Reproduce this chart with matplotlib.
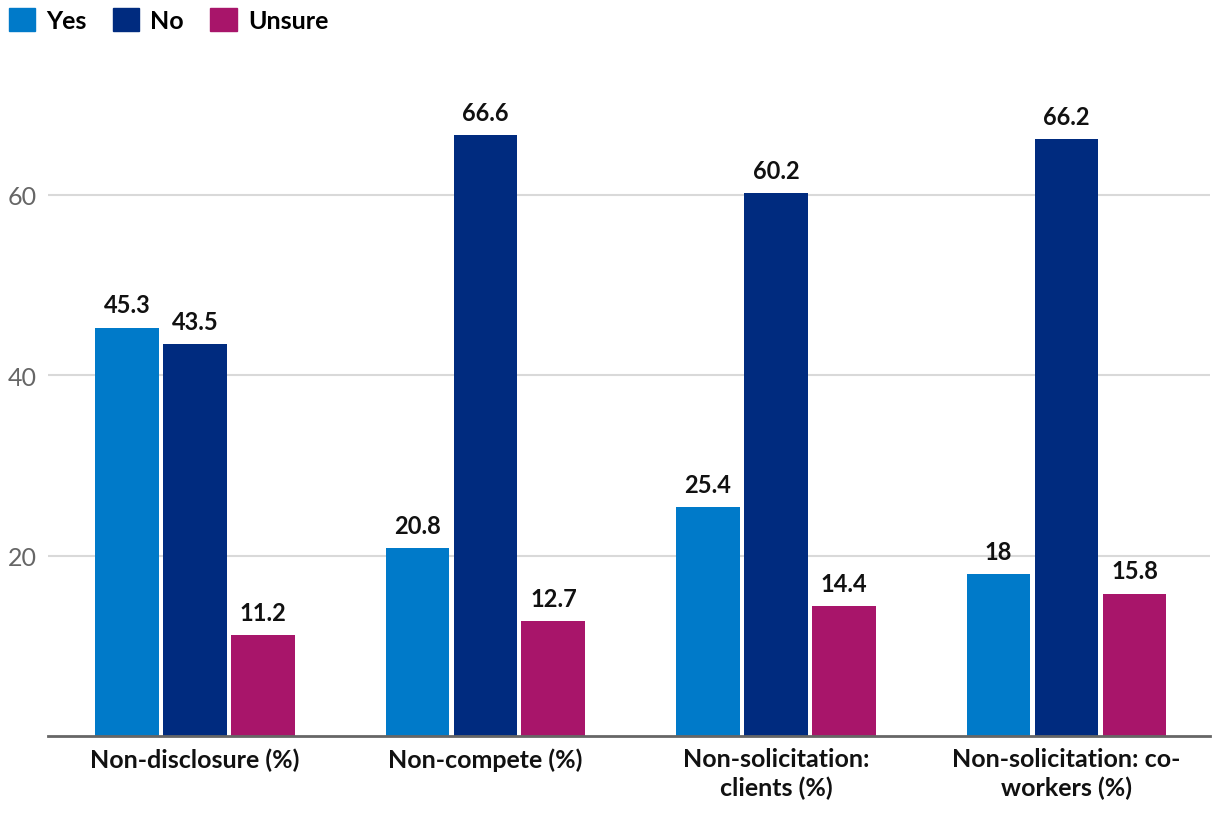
import matplotlib
matplotlib.use("Agg")
import matplotlib.pyplot as plt
import numpy as np
from matplotlib.patches import Patch

categories = ["Non-disclosure (%)", "Non-compete (%)", "Non-solicitation:\nclients (%)", "Non-solicitation: co-\nworkers (%)"]
series_names = ["Yes", "No", "Unsure"]
yes_vals = [45.3, 20.8, 25.4, 18]
no_vals = [43.5, 66.6, 60.2, 66.2]
unsure_vals = [11.2, 12.7, 14.4, 15.8]
yticks = [20, 40, 60]

colors = ["#007ac9", "#002b7f", "#a8156a"]
plt.rcParams['font.family'] = ['Lato', 'DejaVu Sans']

fig = plt.figure(figsize=(12.2, 8.2), dpi=100)
ax = fig.add_axes([0.0393, 0.1012, 0.9525, 0.7698])

x = np.arange(len(categories))
width = 0.22
step = 0.234
for i, (vals, c, name) in enumerate(zip([yes_vals, no_vals, unsure_vals], colors, series_names)):
    pos = x + (i - 1) * step
    bars = ax.bar(pos, vals, width=width, color=c, label=name, zorder=3)
    for b, v in zip(bars, vals):
        ax.annotate(f"{v:g}", (b.get_x() + b.get_width() / 2, v), xytext=(0, 8),
                    textcoords="offset points", ha="center", va="bottom",
                    fontsize=17, fontweight="bold", color="#111111")

ax.set_xlim(-0.506, 3.494)
ax.set_ylim(0, 70)
ax.set_yticks(yticks)
ax.set_yticklabels([str(t) for t in yticks], fontsize=18, color="#666666")
ax.tick_params(axis="y", length=0, pad=8)
ax.grid(axis="y", color="#d9d9d9", linewidth=1.5, zorder=0)
ax.set_xticks(x)
ax.set_xticklabels(categories, fontsize=18, fontweight="bold", color="#111111", linespacing=1.3)
ax.tick_params(axis="x", length=0, pad=8)
for s in ["top", "right", "left"]:
    ax.spines[s].set_visible(False)
ax.spines["bottom"].set_color("#666666")
ax.spines["bottom"].set_linewidth(2)
ax.spines["bottom"].set_zorder(4)

handles = [Patch(color=c) for c in colors]
fig.legend(handles, series_names, loc="upper left", bbox_to_anchor=(0.0, 1.0), ncol=3,
           frameon=False, handlelength=1.05, handleheight=1.05, handletextpad=0.45,
           columnspacing=1.05, prop={"family": "Lato", "weight": "bold", "size": 18},
           borderaxespad=0.0, borderpad=0.35)

fig.savefig("out.png", dpi=100)
